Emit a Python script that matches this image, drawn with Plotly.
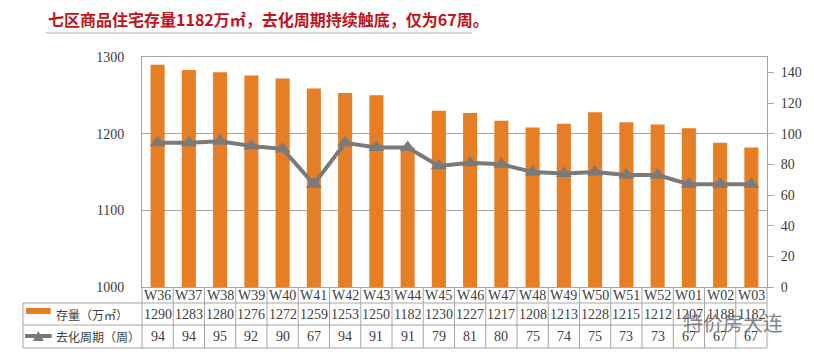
import plotly.graph_objects as go

weeks = ["W36", "W37", "W38", "W39", "W40", "W41", "W42", "W43", "W44", "W45",
         "W46", "W47", "W48", "W49", "W50", "W51", "W52", "W01", "W02", "W03"]
stock = [1290, 1283, 1280, 1276, 1272, 1259, 1253, 1250, 1182, 1230,
         1227, 1217, 1208, 1213, 1228, 1215, 1212, 1207, 1188, 1182]
cycle = [94, 94, 95, 92, 90, 67, 94, 91, 91, 79,
         81, 80, 75, 74, 75, 73, 73, 67, 67, 67]
stock_name = "存量（万㎡）"
cycle_name = "去化周期（周）"
title_text = "七区商品住宅存量1182万㎡，去化周期持续触底，仅为67周。"

W, H = 814, 356
L, R, T, B = 142, 772, 57, 287
PW, PH = R - L, B - T

def px(x):
    return (x - L) / PW

def py(y):
    return (B - y) / PH

BAR = "#E57E25"
LINE = "#7A7A7A"
GRID = "#A6A6A6"
TXT = "#404040"
SERIF = "Liberation Serif, DejaVu Serif, serif"
CJK = "Noto Sans CJK SC, sans-serif"

fig = go.Figure()
fig.add_trace(go.Bar(x=weeks, y=stock, marker=dict(color=BAR, line=dict(width=0)),
                     width=0.45, name=stock_name, yaxis="y"))
fig.add_trace(go.Scatter(x=weeks, y=cycle, mode="lines+markers", name=cycle_name,
                         line=dict(color=LINE, width=4),
                         marker=dict(symbol="triangle-up", size=14, color=LINE),
                         yaxis="y2"))

shapes = []
row_lines = [303, 325, 348]
for yy in row_lines:
    shapes.append(dict(type="line", xref="paper", yref="paper", x0=px(22), x1=px(R),
                       y0=py(yy), y1=py(yy), line=dict(color=GRID, width=1)))
n = len(weeks)
for i in range(n + 1):
    shapes.append(dict(type="line", xref="paper", yref="paper", x0=i / n, x1=i / n,
                       y0=py(348), y1=0, line=dict(color=GRID, width=1)))
shapes.append(dict(type="line", xref="paper", yref="paper", x0=px(22), x1=px(22),
                   y0=py(348), y1=py(303), line=dict(color=GRID, width=1)))
shapes.append(dict(type="rect", xref="paper", yref="paper", x0=px(25), x1=px(50),
                   y0=py(314), y1=py(308), fillcolor=BAR, line=dict(width=0)))
shapes.append(dict(type="line", xref="paper", yref="paper", x0=px(24), x1=px(51),
                   y0=py(336), y1=py(336), line=dict(color=LINE, width=4)))
shapes.append(dict(type="path", xref="paper", yref="paper",
                   path=f"M {px(32)},{py(341)} L {px(43)},{py(341)} L {px(37.5)},{py(331)} Z",
                   fillcolor=LINE, line=dict(width=0)))
shapes.append(dict(type="line", xref="paper", yref="paper", x0=px(45), x1=px(475),
                   y0=py(33), y1=py(33), line=dict(color="#B9A9A9", width=1)))

ann = []
ann.append(dict(text=title_text, xref="paper", yref="paper", x=px(45), y=py(19),
                xanchor="left", yanchor="middle", showarrow=False,
                font=dict(family=CJK, size=16, color="#C0141C", weight="bold")))
for i, w in enumerate(weeks):
    ann.append(dict(text=w, xref="x", yref="paper", x=w, y=py(295.5), showarrow=False,
                    xanchor="center", yanchor="middle", font=dict(family=SERIF, size=14, color=TXT)))
    ann.append(dict(text=str(stock[i]), xref="x", yref="paper", x=w, y=py(314), showarrow=False,
                    xanchor="center", yanchor="middle", font=dict(family=SERIF, size=14, color=TXT)))
    ann.append(dict(text=str(cycle[i]), xref="x", yref="paper", x=w, y=py(336.5), showarrow=False,
                    xanchor="center", yanchor="middle", font=dict(family=SERIF, size=14, color=TXT)))
ann.append(dict(text=stock_name, xref="paper", yref="paper", x=px(53), y=py(314), showarrow=False,
                xanchor="left", yanchor="middle", font=dict(family=CJK, size=12, color=TXT)))
ann.append(dict(text=cycle_name, xref="paper", yref="paper", x=px(53), y=py(336.5), showarrow=False,
                xanchor="left", yanchor="middle", font=dict(family=CJK, size=12, color=TXT)))
ann.append(dict(text="特价房大连", xref="paper", yref="paper", x=px(738), y=py(322), showarrow=False,
                xanchor="center", yanchor="middle",
                font=dict(family=CJK, size=20, color="rgba(110,110,110,0.85)")))

fig.update_layout(
    width=W, height=H,
    margin=dict(l=L, r=W - R, t=T, b=H - B, pad=0),
    paper_bgcolor="white", plot_bgcolor="white",
    showlegend=False,
    shapes=shapes, annotations=ann,
    xaxis=dict(type="category", showticklabels=False, ticks="", showgrid=False,
               showline=True, mirror=True, linecolor=GRID, linewidth=1,
               range=[-0.5, n - 0.5]),
    yaxis=dict(range=[1000, 1300], dtick=100, showgrid=True, gridcolor=GRID, gridwidth=1,
               showline=True, linecolor=GRID, linewidth=1, ticks="", ticklabelstandoff=14,
               tickfont=dict(family=SERIF, size=14, color=TXT), zeroline=False),
    yaxis2=dict(range=[0, 150], dtick=20, overlaying="y", side="right", showgrid=False,
                showline=True, linecolor=GRID, linewidth=1, ticks="outside", ticklen=6,
                tickcolor=GRID, ticklabelstandoff=4,
                tickfont=dict(family=SERIF, size=14, color=TXT), zeroline=False),
)

fig.write_html("out.html", config={"displayModeBar": False},
               post_script="document.body.style.margin='0';document.body.style.overflow='hidden';")
